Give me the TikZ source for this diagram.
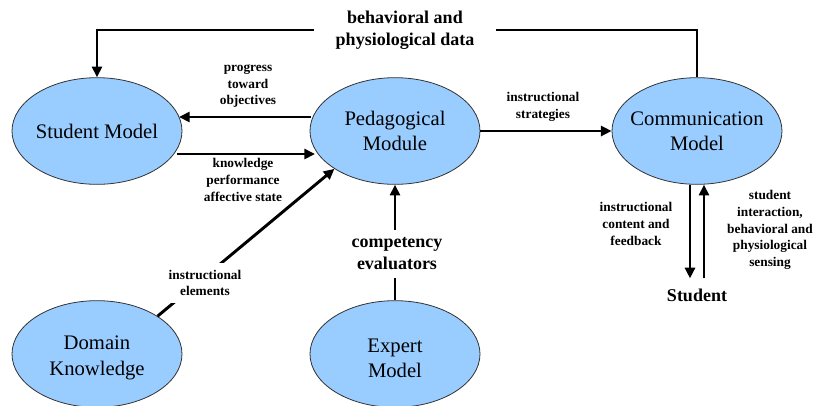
\documentclass[tikz,border=0pt]{standalone}
\usepackage{fontspec}
\setmainfont{Liberation Serif}
\usetikzlibrary{arrows.meta,calc,shapes.geometric}
\definecolor{skyblue}{HTML}{99CCFF}
\begin{document}
\begin{tikzpicture}[x=0.75pt,y=-0.75pt,
 model/.style={ellipse,draw=black!80,line width=0.6pt,fill=skyblue,minimum width=127.5pt,minimum height=80pt,inner sep=0pt},
 mtext/.style={align=center,inner sep=0pt,font=\fontsize{15.5}{19}\selectfont},
 arr/.style={line width=2.2pt,-{Triangle[length=8pt,width=7.5pt]}},
 ln/.style={line width=2.2pt},
 small/.style={font=\bfseries\fontsize{10}{12.5}\selectfont,align=center,inner sep=1pt},
 big/.style={font=\bfseries\fontsize{13.5}{16.5}\selectfont,align=center,inner sep=0pt}
]
\useasboundingbox (0,0) rectangle (815,405);

\node[model] (sm) at (97,131) {};
\node[mtext] at (sm.center) {Student Model};
\node[model] (ped) at (395,131) {};
\node[mtext] at (ped.center) {Pedagogical\\Module};
\node[model] (cm) at (697,131) {};
\node[mtext] at (cm.center) {Communication\\Model};
\node[model] (dk) at (97,354) {};
\node[mtext] at ($(dk.center)+(0,4)$) {Domain\\Knowledge};
\node[model] (em) at (395,354) {};
\node[mtext] at ($(em.center)+(0,4)$) {Expert\\Model};

\node[big] (stu) at (697,295) {Student};

% top feedback loop
\coordinate (topc) at (405,30);
\draw[arr] (cm.north) |- (topc) -| (sm.north);
\node[big,fill=white,inner xsep=16pt,inner ysep=2pt] at (topc) {behavioral and\\physiological data};

% student model <-> pedagogical
\draw[arr] ($(ped.center)+(-84,-14)$) -- ($(sm.center)+(82,-14)$);
\draw[arr] ($(sm.center)+(80,23)$) -- ($(ped.center)+(-80,23)$);
\node[small] at (248,86) {progress\\toward\\objectives};
\node[small] at (243,180) {knowledge\\performance\\affective state};

% strategies
\draw[arr] (ped.east) -- (cm.west);
\node[small] at (543,107) {instructional\\strategies};

% domain knowledge
\draw[arr] (dk.32) -- (ped.212);
\node[small,fill=white,inner ysep=5pt,inner xsep=3pt] at (205,283) {instructional\\elements};

% expert model
\draw[arr] (em.north) -- (ped.south);
\node[big,fill=white,inner ysep=6pt,inner xsep=3pt] at (397,254) {competency\\evaluators};

% communication <-> student
\draw[arr] ($(cm.south)+(-7,0)$) -- ($(stu.north)+(-7,-10)$);
\draw[arr] ($(stu.north)+(7,-10)$) -- ($(cm.south)+(7,0)$);
\node[small] at (636,224) {instructional\\content and\\feedback};
\node[small] at (770,230) {student\\interaction,\\behavioral and\\physiological\\sensing};
\end{tikzpicture}
\end{document}
